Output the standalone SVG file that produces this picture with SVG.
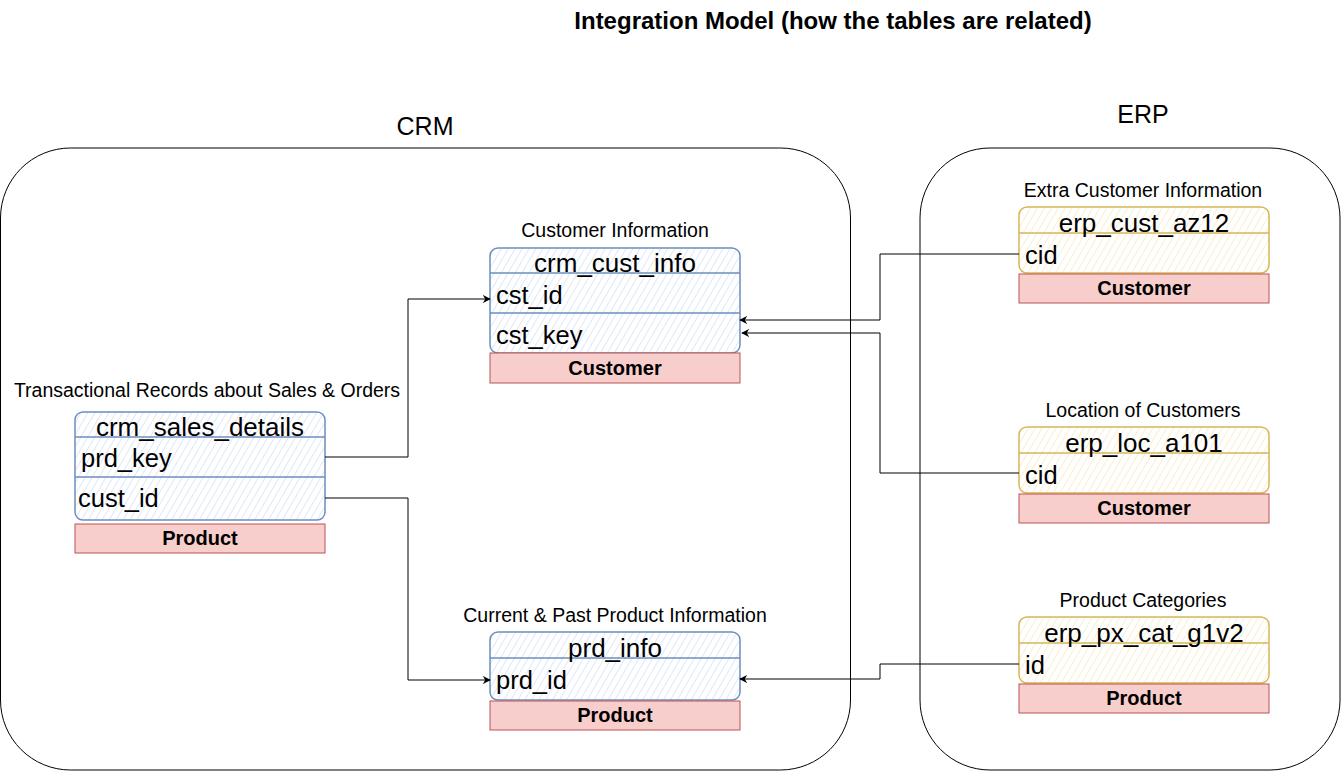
<svg xmlns="http://www.w3.org/2000/svg" width="1341" height="771" viewBox="0 0 1341 771">
<defs>
<pattern id="hb" width="6" height="6" patternUnits="userSpaceOnUse" patternTransform="rotate(30)">
<rect width="6" height="6" fill="#ffffff"/>
<line x1="0" y1="0" x2="0" y2="6" stroke="#d6e3f5" stroke-width="1.6"/>
</pattern>
<pattern id="hy" width="6" height="6" patternUnits="userSpaceOnUse" patternTransform="rotate(30)">
<rect width="6" height="6" fill="#ffffff"/>
<line x1="0" y1="0" x2="0" y2="6" stroke="#f8ebc2" stroke-width="1.6"/>
</pattern>
<marker id="arr" viewBox="0 0 10 10" refX="9" refY="5" markerWidth="8" markerHeight="8" orient="auto" markerUnits="userSpaceOnUse">
<path d="M0,0 L10,5 L0,10 L3,5 Z" fill="#000"/>
</marker>
</defs>
<style>
text{font-family:"Liberation Sans",Arial,Helvetica,sans-serif;fill:#000}
.cont{fill:none;stroke:#000;stroke-width:1}
.big{font-size:25px}
.lab{font-size:19.5px}
.hdr{font-size:26px}
.fld{font-size:25.5px}
.tag{font-size:20px;font-weight:bold}
.bb{fill:url(#hb);stroke:#6c8ebf;stroke-width:1.5}
.yy{fill:url(#hy);stroke:#d6b656;stroke-width:1.5}
.red{fill:#f8cecc;stroke:#b85450;stroke-width:1}
.conn{fill:none;stroke:#000;stroke-width:1;marker-end:url(#arr)}
</style>
<rect width="1341" height="771" fill="#fff"/>
<text x="833" y="29" text-anchor="middle" style="font-size:24px;font-weight:bold">Integration Model (how the tables are related)</text>
<g id="crm">
<rect class="cont" x="0.5" y="148" width="850" height="622" rx="70"/>
<text class="big" x="425" y="135" text-anchor="middle">CRM</text>
</g>
<g id="erp">
<rect class="cont" x="920" y="148" width="420" height="622" rx="70"/>
<text class="big" x="1143" y="123" text-anchor="middle">ERP</text>
</g>
<g id="crm_cust_info">
<text class="lab" x="615" y="237" text-anchor="middle">Customer Information</text>
<rect class="bb" x="490" y="248" width="250" height="105" rx="8"/>
<line x1="490" y1="273" x2="740" y2="273" stroke="#6c8ebf" stroke-width="1.5"/>
<line x1="490" y1="313" x2="740" y2="313" stroke="#6c8ebf" stroke-width="1.5"/>
<text class="hdr" x="615" y="272" text-anchor="middle">crm_cust_info</text>
<text class="fld" x="496" y="304">cst_id</text>
<text class="fld" x="496" y="344">cst_key</text>
<rect class="red" x="490" y="353" width="250" height="30"/>
<text class="tag" x="615" y="375" text-anchor="middle">Customer</text>
</g>
<g id="crm_sales_details">
<text class="lab" x="207" y="397" text-anchor="middle">Transactional Records about Sales &amp; Orders</text>
<rect class="bb" x="75" y="412" width="250" height="108" rx="8"/>
<line x1="75" y1="437" x2="325" y2="437" stroke="#6c8ebf" stroke-width="1.5"/>
<line x1="75" y1="477" x2="325" y2="477" stroke="#6c8ebf" stroke-width="1.5"/>
<text class="hdr" x="200" y="436" text-anchor="middle">crm_sales_details</text>
<text class="fld" x="81" y="467">prd_key</text>
<text class="fld" x="78" y="507">cust_id</text>
<rect class="red" x="75" y="524" width="250" height="29"/>
<text class="tag" x="200" y="545" text-anchor="middle">Product</text>
</g>
<g id="prd_info">
<text class="lab" x="615" y="622" text-anchor="middle">Current &amp; Past Product Information</text>
<rect class="bb" x="490" y="632" width="250" height="68" rx="8"/>
<line x1="490" y1="658" x2="740" y2="658" stroke="#6c8ebf" stroke-width="1.5"/>
<text class="hdr" x="615" y="657" text-anchor="middle">prd_info</text>
<text class="fld" x="496" y="689">prd_id</text>
<rect class="red" x="490" y="701" width="250" height="29"/>
<text class="tag" x="615" y="722" text-anchor="middle">Product</text>
</g>
<g id="erp_cust_az12">
<text class="lab" x="1143" y="197" text-anchor="middle">Extra Customer Information</text>
<rect class="yy" x="1019" y="207" width="250" height="66" rx="8"/>
<line x1="1019" y1="233" x2="1269" y2="233" stroke="#d6b656" stroke-width="1.5"/>
<text class="hdr" x="1144" y="232" text-anchor="middle">erp_cust_az12</text>
<text class="fld" x="1025" y="264">cid</text>
<rect class="red" x="1019" y="274" width="250" height="29"/>
<text class="tag" x="1144" y="295" text-anchor="middle">Customer</text>
</g>
<g id="erp_loc_a101">
<text class="lab" x="1143" y="417" text-anchor="middle">Location of Customers</text>
<rect class="yy" x="1019" y="427" width="250" height="66" rx="8"/>
<line x1="1019" y1="453" x2="1269" y2="453" stroke="#d6b656" stroke-width="1.5"/>
<text class="hdr" x="1144" y="452" text-anchor="middle">erp_loc_a101</text>
<text class="fld" x="1025" y="484">cid</text>
<rect class="red" x="1019" y="494" width="250" height="29"/>
<text class="tag" x="1144" y="515" text-anchor="middle">Customer</text>
</g>
<g id="erp_px_cat_g1v2">
<text class="lab" x="1143" y="607" text-anchor="middle">Product Categories</text>
<rect class="yy" x="1019" y="617" width="250" height="66" rx="8"/>
<line x1="1019" y1="643" x2="1269" y2="643" stroke="#d6b656" stroke-width="1.5"/>
<text class="hdr" x="1144" y="642" text-anchor="middle">erp_px_cat_g1v2</text>
<text class="fld" x="1025" y="674">id</text>
<rect class="red" x="1019" y="684" width="250" height="29"/>
<text class="tag" x="1144" y="705" text-anchor="middle">Product</text>
</g>
<g id="connectors">
<path class="conn" d="M325,457 H408 V299 H490"/>
<path class="conn" d="M325,498 H408 V680 H490"/>
<path class="conn" d="M1019,254 H880 V320 H740"/>
<path class="conn" d="M1019,473 H880 V333 H742"/>
<path class="conn" d="M1019,664 H880 V679 H740"/>
</g>
</svg>
